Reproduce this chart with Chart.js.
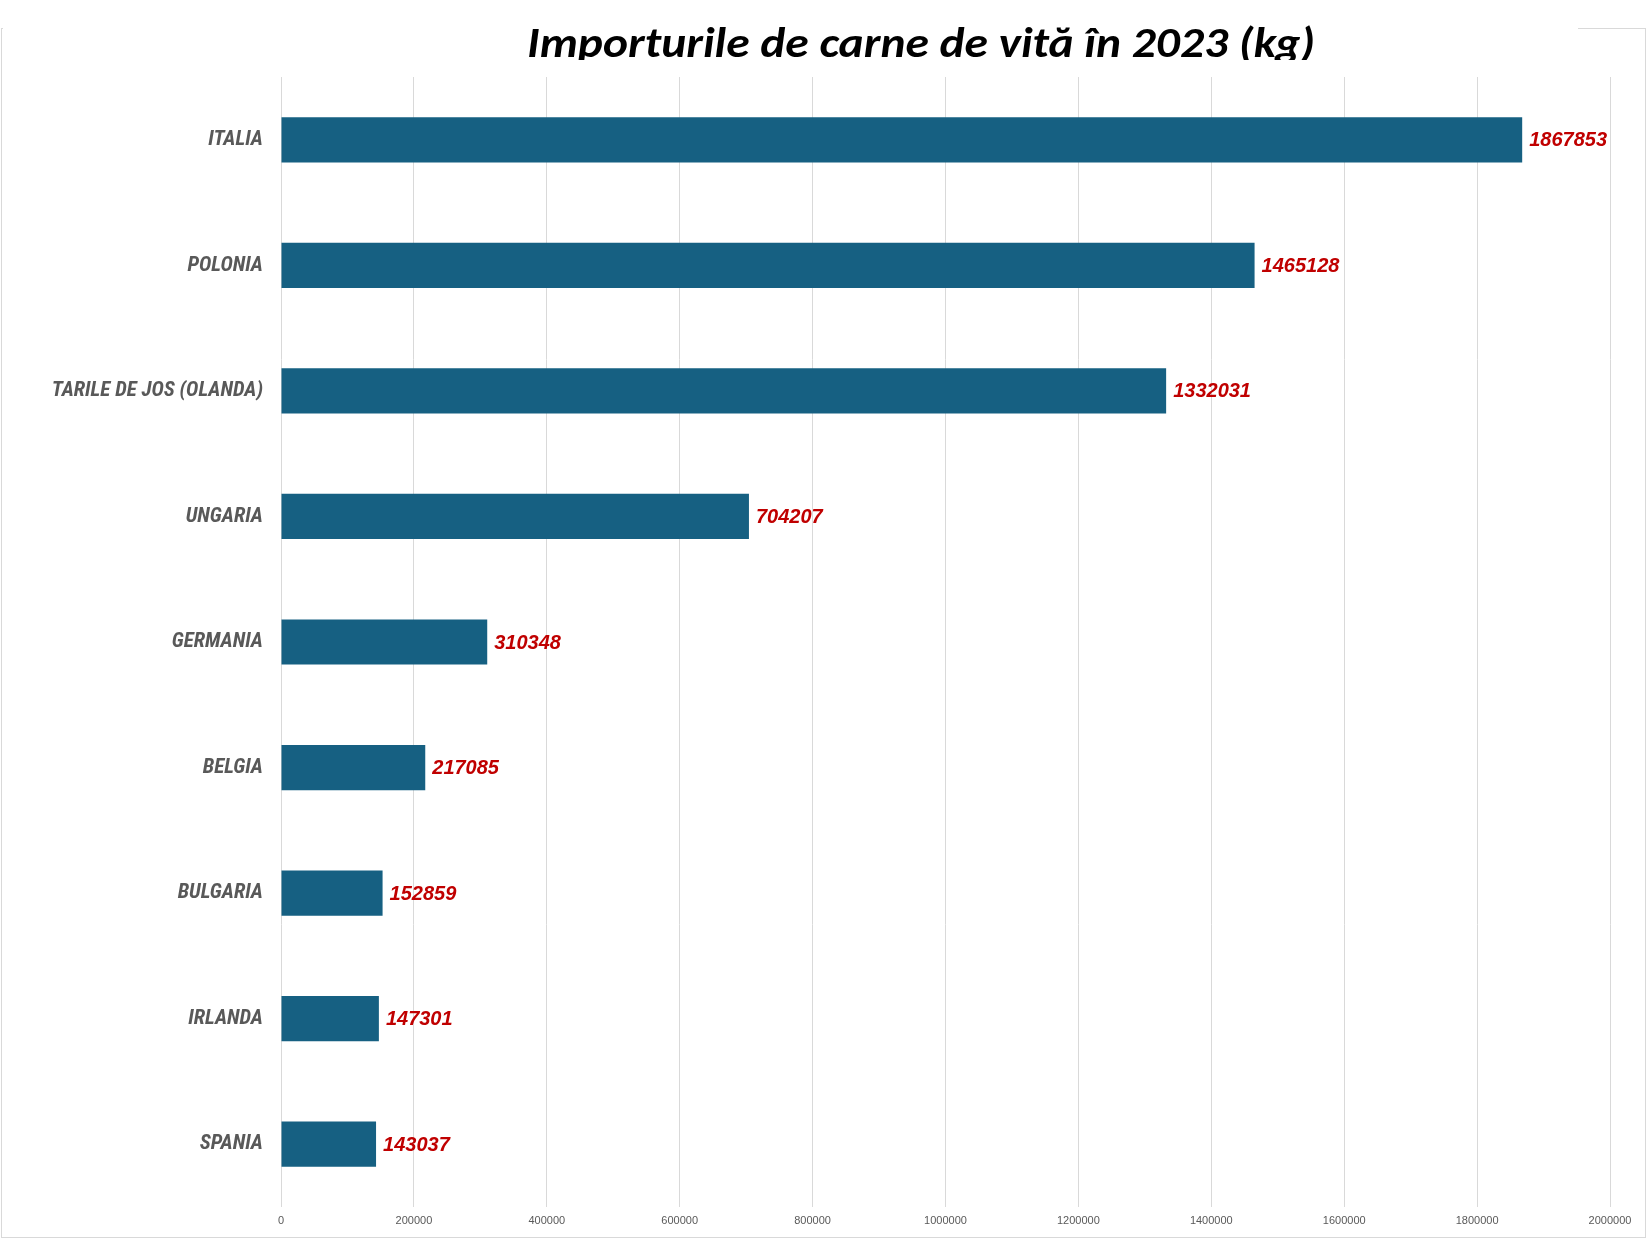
<!DOCTYPE html>
<html lang="ro">
<head>
<meta charset="utf-8">
<title>Importurile de carne de vită în 2023 (kg)</title>
<script src="https://cdn.jsdelivr.net/npm/chart.js@4/dist/chart.umd.min.js"></script>
<style>
    html, body { margin: 0; padding: 0; background: #fff; }
    #cutie { width: 1647px; height: 1242px; position: relative; }
</style>
</head>
<body>
<div id="cutie"><canvas id="graficImport"></canvas></div>
<script>
const titlu = 'Importurile de carne de vită în 2023 (kg)';
const tari = ['ITALIA', 'POLONIA', 'TARILE DE JOS (OLANDA)', 'UNGARIA', 'GERMANIA', 'BELGIA', 'BULGARIA', 'IRLANDA', 'SPANIA'];
const cantitati = [1867853, 1465128, 1332031, 704207, 310348, 217085, 152859, 147301, 143037];
const axaMin = 0;
const axaMax = 2000000;
const pasAxa = 200000;

// rama gri si titlul (tăiat jos, ca in original)
const pluginRama = {
    id: 'rama',
    beforeDraw(chart) {
        const ctx = chart.ctx;
        ctx.save();
        ctx.fillStyle = '#ffffff';
        ctx.fillRect(0, 0, chart.width, chart.height);
        ctx.strokeStyle = '#d9d9d9';
        ctx.lineWidth = 1;
        ctx.strokeRect(1.5, 28.5, 1644, 1209);
        ctx.fillStyle = '#ffffff';
        ctx.fillRect(3, 20, 1575, 40);
        ctx.restore();
    },
    afterDraw(chart) {
        const ctx = chart.ctx;
        ctx.save();
        ctx.beginPath();
        ctx.rect(0, 0, chart.width, 60);
        ctx.clip();
        ctx.font = 'italic bold 43px Carlito, "Open Sans", sans-serif';
        ctx.fillStyle = '#000000';
        ctx.textBaseline = 'alphabetic';
        const w = ctx.measureText(titlu).width;
        const sx = 788 / w;
        ctx.translate(527, 57);
        ctx.scale(sx, 1);
        ctx.fillText(titlu, 0, 0);
        ctx.restore();
    }
};

const pluginValori = {
    id: 'valori',
    afterDatasetsDraw(chart) {
        const ctx = chart.ctx;
        const meta = chart.getDatasetMeta(0);
        ctx.save();
        ctx.font = 'italic bold 20px "Liberation Sans", Arial, sans-serif';
        ctx.fillStyle = '#c00000';
        ctx.textAlign = 'left';
        ctx.textBaseline = 'middle';
        meta.data.forEach((bar, i) => {
            ctx.fillText(String(cantitati[i]), bar.x + 7, bar.y + 1);
        });
        ctx.restore();
    }
};

const ctx = document.getElementById('graficImport').getContext('2d');
const grafic = new Chart(ctx, {
    type: 'bar',
    data: {
        labels: tari,
        datasets: [{
            data: cantitati,
            backgroundColor: '#166082',
            borderWidth: 0,
            categoryPercentage: 1,
            barPercentage: 0.36
        }]
    },
    options: {
        indexAxis: 'y',
        responsive: true,
        maintainAspectRatio: false,
        animation: false,
        devicePixelRatio: 1,
        layout: { padding: { top: 77, right: 37, bottom: 0, left: 0 } },
        plugins: {
            legend: { display: false },
            title: { display: false },
            tooltip: { enabled: false }
        },
        scales: {
            x: {
                min: axaMin,
                max: axaMax,
                afterFit: s => { s.height = 35; },
                grid: { color: '#d9d9d9', drawTicks: false },
                border: { display: false },
                ticks: {
                    stepSize: pasAxa,
                    padding: 7,
                    color: '#595959',
                    font: { family: '"Liberation Sans", Arial, sans-serif', size: 11 },
                    callback: v => String(v)
                }
            },
            y: {
                afterFit: s => { s.width = 281; },
                grid: { display: false },
                border: { display: false },
                ticks: {
                    padding: 10,
                    color: '#595959',
                    font: { family: '"Roboto Condensed", Roboto, sans-serif', size: 21, style: 'italic', weight: 'bold' }
                }
            }
        }
    },
    plugins: [pluginRama, pluginValori]
});
</script>
</body>
</html>
